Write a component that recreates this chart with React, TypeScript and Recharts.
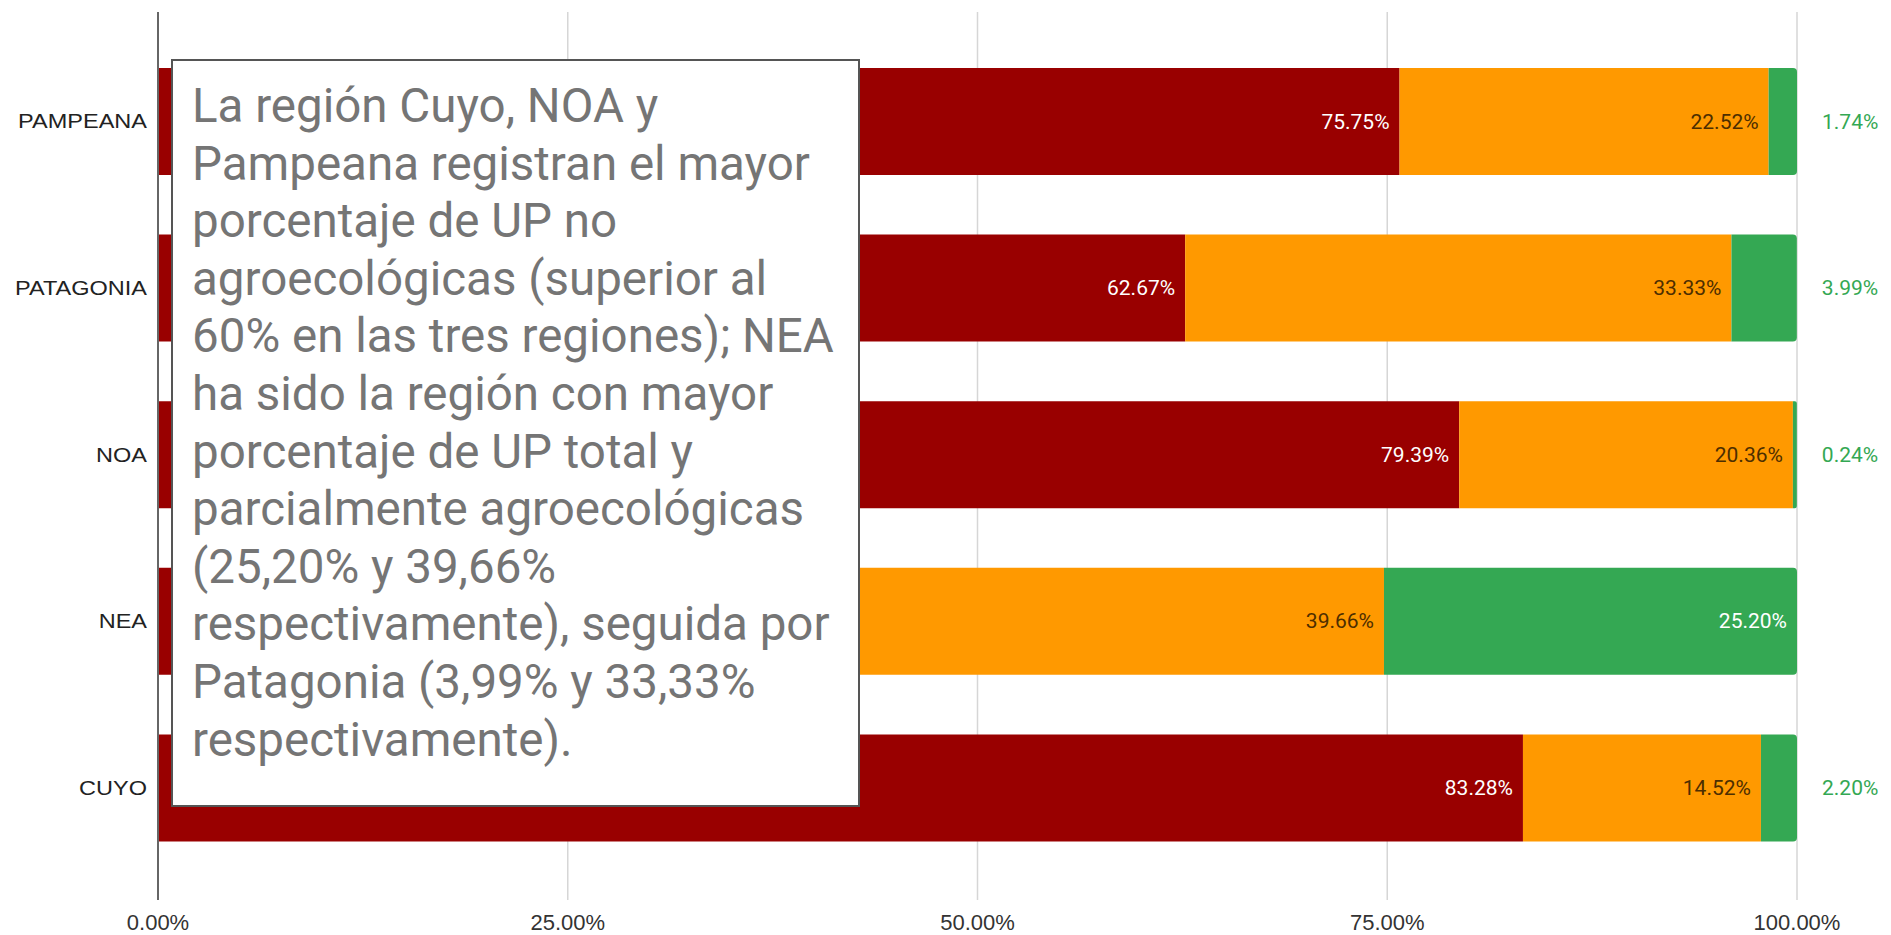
import React from 'react';
import { BarChart, Bar, XAxis, YAxis, CartesianGrid, LabelList } from 'recharts';

const regions = ['PAMPEANA', 'PATAGONIA', 'NOA', 'NEA', 'CUYO'];
const noAgro = [75.75, 62.67, 79.39, 35.14, 83.28];
const parcial = [22.52, 33.33, 20.36, 39.66, 14.52];
const total = [1.74, 3.99, 0.24, 25.2, 2.2];
const xTicks = [0, 25, 50, 75, 100];

const noteLines = [
  'La región Cuyo, NOA y',
  'Pampeana registran el mayor',
  'porcentaje de UP no',
  'agroecológicas (superior al',
  '60% en las tres regiones); NEA',
  'ha sido la región con mayor',
  'porcentaje de UP total y',
  'parcialmente agroecológicas',
  '(25,20% y 39,66%',
  'respectivamente), seguida por',
  'Patagonia (3,99% y 33,33%',
  'respectivamente).',
];

const data = regions.map((r, i) => ({ region: r, noAgro: noAgro[i], parcial: parcial[i], total: total[i] }));

const fmt = (v: number) => v.toFixed(2) + '%';

const insideLabel = (color: string) => (props: any) => {
  const { x, y, width, height, value } = props;
  return (
    <text x={x + width - 10} y={y + height / 2} textAnchor="end" dominantBaseline="central"
      fill={color} fontFamily="Roboto" fontSize={21}>{fmt(value)}</text>
  );
};

const greenLabel = (props: any) => {
  const { x, y, width, height, value } = props;
  if (value >= 10) {
    return (
      <text x={x + width - 10} y={y + height / 2} textAnchor="end" dominantBaseline="central"
        fill="#ffffff" fontFamily="Roboto" fontSize={21}>{fmt(value)}</text>
    );
  }
  return (
    <text x={x + width + 25} y={y + height / 2} textAnchor="start" dominantBaseline="central"
      fill="#34a853" fontFamily="Roboto" fontSize={21}>{fmt(value)}</text>
  );
};

const CategoryTick = (props: any) => {
  const { x, y, payload } = props;
  return (
    <text transform={`translate(${x - 11},${y}) scale(1.12,1)`} textAnchor="end" dominantBaseline="central"
      fill="#222" fontFamily="Liberation Sans, Arial" fontSize={21}>{payload.value}</text>
  );
};

export default function App() {
  return (
    <div style={{ position: 'fixed', left: 0, top: 0, width: 1891, height: 935, background: '#fff' }}>
      <BarChart width={1891} height={935} data={data} layout="vertical"
        margin={{ top: 12, right: 94, bottom: 0, left: 0 }}>
        <CartesianGrid horizontal={false} stroke="#d6d6d6" strokeWidth={1.5} />
        <XAxis type="number" domain={[0, 100]} ticks={xTicks} allowDataOverflow
          tickFormatter={fmt} axisLine={false} tickLine={false} tickSize={0} tickMargin={14}
          height={35} tick={{ fontSize: 22, fill: '#333', fontFamily: 'Liberation Sans, Arial' }} />
        <YAxis type="category" dataKey="region" width={158} padding={{ top: 26, bottom: 29 }}
          tickLine={false} tickSize={0} tickMargin={0}
          axisLine={{ stroke: '#666', strokeWidth: 2 }}
          tick={<CategoryTick />} />
        <Bar dataKey="noAgro" stackId="a" fill="#990000" barSize={107} isAnimationActive={false}>
          <LabelList dataKey="noAgro" content={insideLabel('#ffffff')} />
        </Bar>
        <Bar dataKey="parcial" stackId="a" fill="#ff9900" barSize={107} isAnimationActive={false}>
          <LabelList dataKey="parcial" content={insideLabel('#4d2e00')} />
        </Bar>
        <Bar dataKey="total" stackId="a" fill="#34a853" barSize={107} radius={[0, 4, 4, 0]} isAnimationActive={false}>
          <LabelList dataKey="total" content={greenLabel} />
        </Bar>
      </BarChart>
      <div style={{
        position: 'absolute', left: 171, top: 59, width: 689, height: 748, boxSizing: 'border-box',
        border: '2px solid #555', background: '#fff', padding: '17px 0 0 19px',
        fontFamily: 'Roboto', fontSize: 47.5, lineHeight: '57.6px', color: '#757575', whiteSpace: 'nowrap',
      }}>
        {noteLines.map((l, i) => <div key={i}>{l}</div>)}
      </div>
    </div>
  );
}
